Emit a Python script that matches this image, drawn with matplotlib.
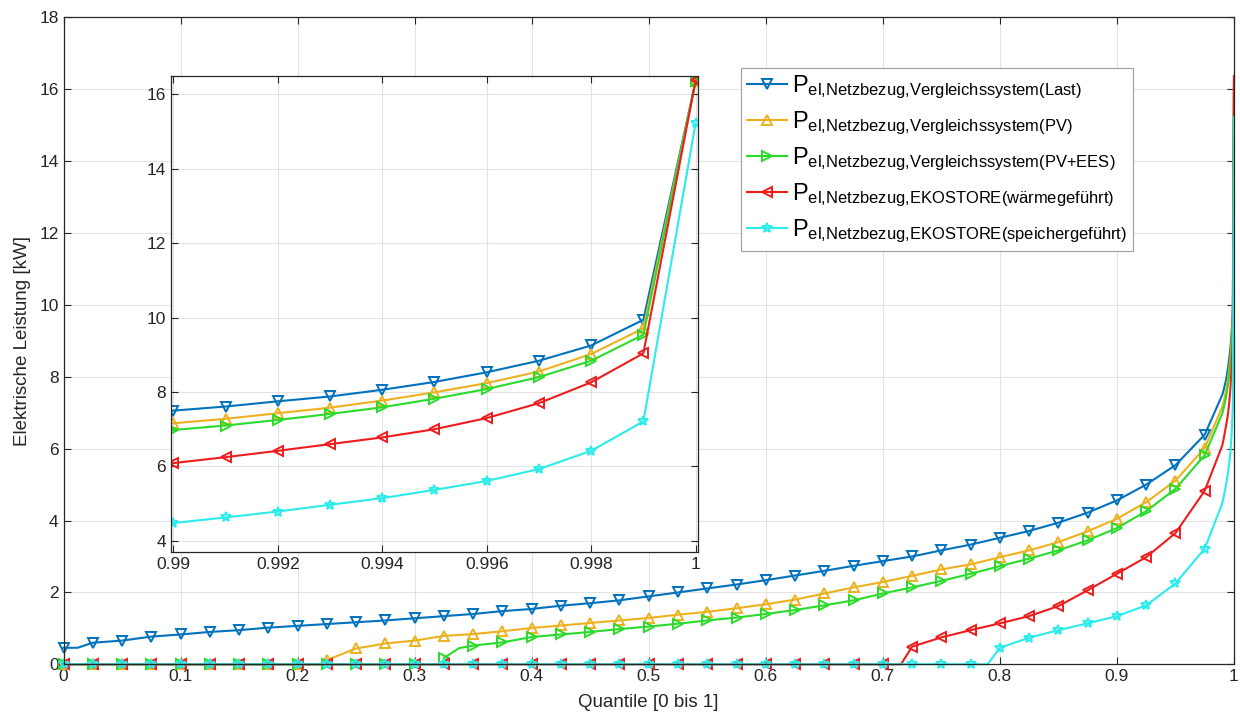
import numpy as np
import matplotlib
matplotlib.use("Agg")
import matplotlib.pyplot as plt

plt.rcParams['font.family'] = ['Liberation Sans', 'DejaVu Sans']
plt.rcParams['mathtext.fontset'] = 'custom'
plt.rcParams['mathtext.rm'] = 'Liberation Sans'
plt.rcParams['mathtext.it'] = 'Liberation Sans:italic'
plt.rcParams['mathtext.bf'] = 'Liberation Sans:bold'

# quantile grid with markers (0 .. 0.975) and the tail shown in the zoom
q_grid = np.linspace(0, 0.975, 40)
q_tail = [0.99, 0.991, 0.992, 0.993, 0.994, 0.995, 0.996, 0.997, 0.998, 0.999, 1.0]

last_grid = [0.46, 0.60, 0.66, 0.77, 0.83, 0.90, 0.95, 1.02, 1.07, 1.12,
             1.17, 1.22, 1.28, 1.34, 1.40, 1.48, 1.54, 1.63, 1.70, 1.78,
             1.89, 2.00, 2.11, 2.22, 2.34, 2.47, 2.60, 2.74, 2.87, 3.00,
             3.17, 3.33, 3.52, 3.71, 3.94, 4.22, 4.56, 5.00, 5.54, 6.39]
last_tail = [7.50, 7.61, 7.75, 7.88, 8.06, 8.27, 8.53, 8.84, 9.25, 9.94, 16.35]
last_extra = [(0.012, 0.46)]

pv_grid = [0] * 9 + [0.12, 0.44, 0.58, 0.66, 0.79, 0.84, 0.92, 1.01, 1.08, 1.15,
                     1.22, 1.29, 1.38, 1.46, 1.56, 1.67, 1.80, 1.97, 2.14, 2.29,
                     2.46, 2.64, 2.78, 2.98, 3.17, 3.40, 3.70, 4.05, 4.51, 5.11, 6.02]
pv_tail = [7.16, 7.28, 7.43, 7.58, 7.77, 7.99, 8.24, 8.55, 9.02, 9.71, 16.35]
pv_extra = [(0.224, 0.0)]

ees_grid = [0] * 13 + [0.18, 0.52, 0.61, 0.76, 0.83, 0.90, 0.98, 1.05, 1.13, 1.22,
                       1.30, 1.40, 1.51, 1.64, 1.78, 1.97, 2.14, 2.32, 2.52, 2.73,
                       2.94, 3.17, 3.45, 3.79, 4.26, 4.88, 5.82]
ees_tail = [6.98, 7.10, 7.25, 7.41, 7.59, 7.82, 8.08, 8.40, 8.84, 9.54, 16.35]
ees_extra = [(0.324, 0.0), (0.338, 0.45)]

wg_grid = [0] * 29 + [0.49, 0.75, 0.95, 1.14, 1.34, 1.62, 2.06, 2.52, 2.98, 3.65, 4.83]
wg_tail = [6.09, 6.25, 6.42, 6.60, 6.78, 7.00, 7.30, 7.70, 8.26, 9.04, 16.37]
wg_extra = [(0.7155, 0.0)]

sg_grid = [0] * 32 + [0.46, 0.74, 0.95, 1.14, 1.34, 1.64, 2.25, 3.22]
sg_tail = [4.48, 4.63, 4.79, 4.97, 5.15, 5.37, 5.61, 5.93, 6.42, 7.21, 15.22]
sg_extra = [(0.7895, 0.0)]

# braces around , and + keep mathtext from adding extra spacing
labels = [r'P$_{\mathrm{el{,}Netzbezug{,}Vergleichssystem(Last)}}$',
          r'P$_{\mathrm{el{,}Netzbezug{,}Vergleichssystem(PV)}}$',
          r'P$_{\mathrm{el{,}Netzbezug{,}Vergleichssystem(PV{+}EES)}}$',
          r'P$_{\mathrm{el{,}Netzbezug{,}EKOSTORE(wärmegeführt)}}$',
          r'P$_{\mathrm{el{,}Netzbezug{,}EKOSTORE(speichergeführt)}}$']
colors = ['#0072BD', '#EDB120', '#2BDB2B', '#EE1C1C', '#2CEBEB']
markers = ['v', '^', '>', '<', '*']

series = [(last_grid, last_tail, last_extra),
          (pv_grid, pv_tail, pv_extra),
          (ees_grid, ees_tail, ees_extra),
          (wg_grid, wg_tail, wg_extra),
          (sg_grid, sg_tail, sg_extra)]

fig = plt.figure(figsize=(12.4, 7.17), dpi=100)
ax = fig.add_axes([63.5 / 1240, 1 - 664.3 / 717, 1170.5 / 1240, 647 / 717])
axin = fig.add_axes([170.7 / 1240, 1 - 551.7 / 717, 527 / 1240, 475.7 / 717])

gridc = '#E3E3E3'
axc = '#262626'

handles = []
for (g, t, e), c, m, lab in zip(series, colors, markers, labels):
    x = np.concatenate([q_grid, [p[0] for p in e], q_tail])
    y = np.concatenate([g, [p[1] for p in e], t])
    kind = np.concatenate([np.zeros(len(q_grid)), np.ones(len(e)), 2 * np.ones(len(q_tail))])
    order = np.argsort(x, kind='stable')
    x, y, kind = x[order], y[order], kind[order]
    mk_main = list(np.where(kind == 0)[0])
    mk_tail = list(np.where(kind == 2)[0])
    h, = ax.plot(x, y, color=c, lw=1.5, marker=m, ms=7, mfc='none', mew=1.4,
                 markevery=mk_main, label=lab, clip_on=False)
    axin.plot(x, y, color=c, lw=1.5, marker=m, ms=7, mfc='none', mew=1.4,
              markevery=mk_tail)
    handles.append(h)

for a in (ax, axin):
    a.grid(True, color=gridc, lw=0.8)
    a.set_axisbelow(True)
    a.tick_params(direction='in', top=True, right=True, labelsize=12.5,
                  colors=axc, length=5, width=0.8)
    for s in a.spines.values():
        s.set_color(axc)
        s.set_linewidth(0.9)

ax.set_xlim(0, 1)
ax.set_ylim(0, 18)
ax.set_xticks(np.arange(0, 1.01, 0.1))
ax.set_xticklabels(['%g' % round(v, 1) for v in np.arange(0, 1.01, 0.1)])
ax.set_yticks(np.arange(0, 19, 2))
ax.set_xlabel('Quantile [0 bis 1]', fontsize=13.5, color=axc, labelpad=7)
ax.set_ylabel('Elektrische Leistung [kW]', fontsize=13.5, color=axc, labelpad=6)

inx = [0.99, 0.992, 0.994, 0.996, 0.998, 1.0]
axin.set_xlim(0.98995, 1.00004)
axin.set_ylim(3.71, 16.49)
axin.set_xticks(inx)
axin.set_xticklabels(['%g' % v for v in inx])
axin.set_yticks(np.arange(4, 17, 2))
axin.set_facecolor('white')

leg = ax.legend(handles=handles, loc='upper left',
                bbox_to_anchor=(741 / 1240, 1 - 68 / 717), bbox_transform=fig.transFigure,
                fontsize=17, frameon=True, fancybox=False, framealpha=1,
                edgecolor='#A0A0A0', handlelength=1.7, handletextpad=0.2,
                labelspacing=0.36, borderpad=0.25, borderaxespad=0)
leg.get_frame().set_linewidth(0.8)
leg.set_zorder(10)

fig.savefig('out.png', dpi=100)
